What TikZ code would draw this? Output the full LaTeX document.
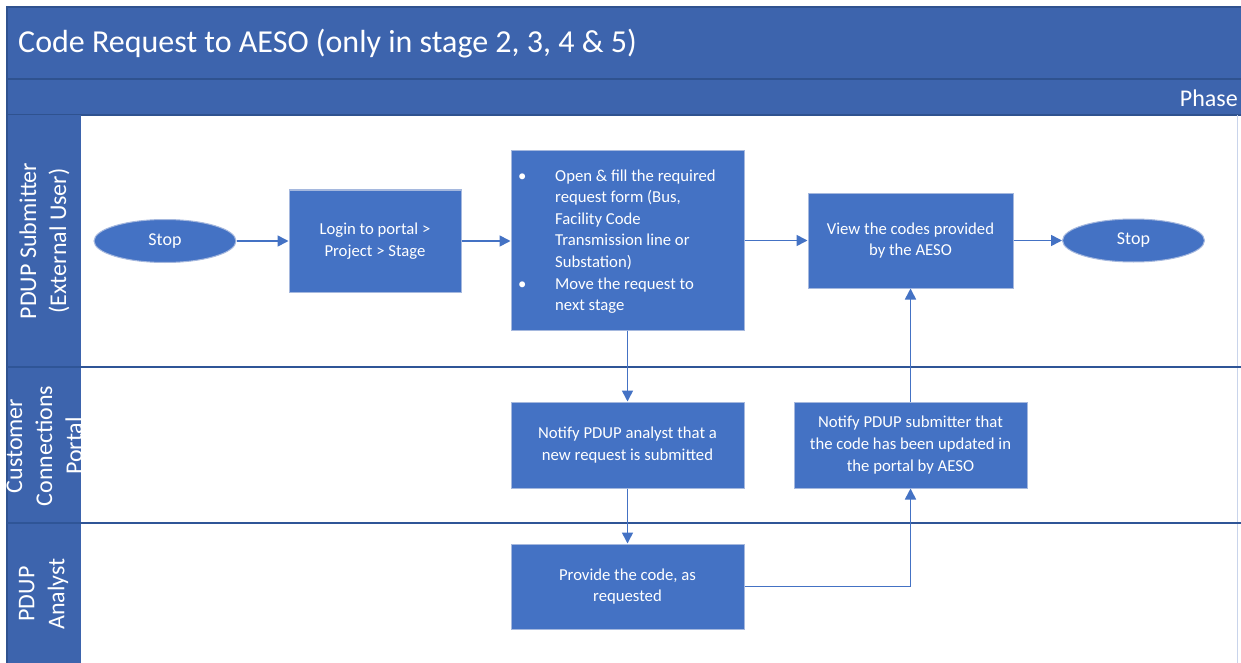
\documentclass[tikz,border=0pt]{standalone}
\usepackage{fontspec}
\setmainfont{Carlito}
\usetikzlibrary{shapes.geometric,arrows.meta}
\definecolor{hdr}{RGB}{61,100,173}
\definecolor{hdrline}{RGB}{47,82,143}
\definecolor{boxblue}{RGB}{68,114,196}
\definecolor{boxedge}{RGB}{165,184,222}
\definecolor{laneline}{RGB}{47,85,151}
\tikzset{
  stepbox/.style={rectangle, fill=boxblue, draw=boxedge, line width=1pt, text=white, align=center,
    font=\fontsize{16.7}{21.6}\selectfont, inner sep=0pt},
  term/.style={ellipse, fill=boxblue, draw=boxedge, line width=1pt, text=white,
    font=\fontsize{18}{21.6}\selectfont, inner sep=0pt, minimum width=142pt, minimum height=43pt},
  conn/.style={draw=boxblue, line width=1.6pt, -{Triangle[length=11pt,width=11pt]}},
  lanelbl/.style={rotate=90, text=white, align=center, font=\fontsize{24}{30}\selectfont, inner sep=0pt},
  bar/.style={fill=hdr, draw=hdrline, line width=1.2pt},
}
\begin{document}
\begin{tikzpicture}[x=1pt,y=-1pt]
\useasboundingbox (0,0) rectangle (1241,663);
\fill[white] (0,0) rectangle (1241,663);
% header bars
\path[bar] (7,7) rectangle (1242,79);
\path[bar] (7,79) rectangle (1242,115);
\node[anchor=west, text=white, font=\fontsize{32}{36}\selectfont, inner sep=0pt] (title) at (18,44) {Code Request to AESO (only in stage 2, 3, 4 \& 5)};
\node[anchor=east, text=white, font=\fontsize{24}{28}\selectfont, inner sep=0pt] (phase) at (1238,98) {Phase};
% lane column
\path[fill=hdr] (7,115) rectangle (81,664);
\draw[hdrline, line width=1.2pt] (7,115) -- (7,664);
\draw[boxedge!60, line width=0.8pt] (1237,115) -- (1237,664);
% lane separators
\draw[laneline, line width=1.5pt] (7,367) -- (1242,367);
\draw[laneline, line width=1.5pt] (7,523) -- (1242,523);
% lane labels
\node[lanelbl] (lane1) at (44.5,241) {PDUP Submitter\\(External User)};
\node[lanelbl] (lane2) at (44.5,446) {Customer\\Connections\\Portal};
\node[lanelbl] (lane3) at (43.5,594) {PDUP\\Analyst};
% nodes
\node[term] (stop1) at (165,241) {Stop};
\node[stepbox, minimum width=172pt, minimum height=102pt] (login) at (375,241) {Login to portal >\\Project > Stage};
\node[stepbox, minimum width=233pt, minimum height=179pt] (open) at (627.5,240.5) {};
\node[anchor=west, text=white, inner sep=0pt, font=\fontsize{16.7}{21.6}\selectfont] (opentext) at (518,241.5) {%
  \begin{tabular}{@{}p{37pt}@{}l@{}}
  • & Open \& fill the required\\
    & request form (Bus,\\
    & Facility Code\\
    & Transmission line or\\
    & Substation)\\
  • & Move the request to\\
    & next stage
  \end{tabular}};
\node[stepbox, minimum width=205pt, minimum height=95pt] (view) at (910.5,240.5) {View the codes provided\\by the AESO};
\node[term] (stop2) at (1133.5,240.5) {Stop};
\node[stepbox, minimum width=233pt, minimum height=86pt] (notA) at (627.5,445) {Notify PDUP analyst that a\\new request is submitted};
\node[stepbox, minimum width=233pt, minimum height=86pt] (notS) at (910.5,445) {Notify PDUP submitter that\\the code has been updated in\\the portal by AESO};
\node[stepbox, minimum width=233pt, minimum height=85pt] (prov) at (627.5,586.5) {Provide the code, as\\requested};
% connectors
\draw[conn] (stop1.east) -- (stop1.east -| login.west);
\draw[conn] (login.east) -- (login.east -| open.west);
\draw[conn] (open.east) -- (open.east -| view.west);
\draw[conn] (view.east) -- (view.east -| stop2.west);
\draw[conn] (open.south) -- (notA.north);
\draw[conn] (notA.south) -- (prov.north);
\draw[conn] (prov.east) -| (notS.south);
\draw[conn] (notS.north) -- (view.south);
\end{tikzpicture}
\end{document}
